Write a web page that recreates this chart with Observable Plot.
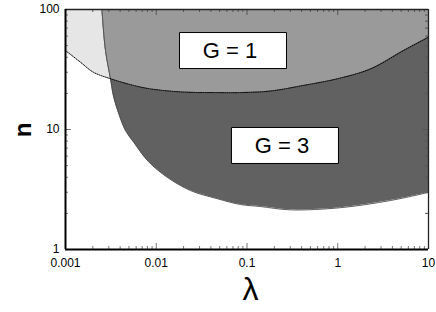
<!DOCTYPE html>
<html>
<head>
<meta charset="utf-8">
<script src="https://cdn.jsdelivr.net/npm/d3@7"></script>
<script src="https://cdn.jsdelivr.net/npm/@observablehq/plot@0.6"></script>
<style>
  html, body { margin: 0; padding: 0; background: white; }
  #chart svg { display: block; }
</style>
</head>
<body>
<div id="chart"></div>
<script>
// G = 1 boundary (dotted curve): lambda and n
const lamG1 = [0.001, 0.00146, 0.00203, 0.00313, 0.00562, 0.00864, 0.02, 0.045, 0.085, 0.18, 0.42, 1.0, 2.3, 5.3, 10];
const nG1   = [45.5, 36.4, 30.0, 26.5, 23.3, 21.8, 20.5, 20.3, 20.3, 20.9, 23.3, 26.5, 32.0, 45.5, 58.8];

// G = 3 boundary (lower edge of dark region)
const lamG3 = [0.00252, 0.00276, 0.00313, 0.0034, 0.00387, 0.00458, 0.00566, 0.0082, 0.0132, 0.0238, 0.047, 0.085, 0.141, 0.30, 1.07, 3.81, 10];
const nG3   = [100, 45.5, 26.5, 18.6, 13.5, 9.8, 7.8, 5.4, 4.0, 3.1, 2.65, 2.37, 2.28, 2.14, 2.23, 2.56, 2.99];

// crossing point of the two boundaries
const crossLam = 0.00313;

// region labels
const labelText = ["G = 1", "G = 3"];
const labelLam  = [0.0701, 0.262];
const labelN    = [45.5, 7.36];

// axis ticks
const xMajor = [0.001, 0.01, 0.1, 1, 10];
const yMajor = [1, 10, 100];

const g1 = lamG1.map((l, i) => ({lam: l, n: nG1[i]}));
const g3 = lamG3.map((l, i) => ({lam: l, n: nG3[i]}));
const labels = labelText.map((t, i) => ({text: t, lam: labelLam[i], n: labelN[i]}));

const xAll = d3.scaleLog().domain([0.001, 10]).ticks();
const yAll = d3.scaleLog().domain([1, 100]).ticks();
const xMinor = xAll.filter(v => !xMajor.some(m => Math.abs(m - v) / m < 1e-9));
const yMinor = yAll.filter(v => !yMajor.some(m => Math.abs(m - v) / m < 1e-9));

const W = 436, H = 312, mL = 65, mR = 8, mT = 9, mB = 63;
const innerW = W - mL - mR, innerH = H - mT - mB;
const majLen = 6, minLen = 3;

const boxSymbol = { draw(ctx) { ctx.rect(-53.5, -18, 107, 36); } };

const light = "#e6e6e6", medium = "#9a9a9a", dark = "#616161";
const crv = "catmull-rom";

const chart = Plot.plot({
  width: W, height: H,
  marginLeft: mL, marginRight: mR, marginTop: mT, marginBottom: mB,
  x: {type: "log", domain: [0.001, 10], label: null},
  y: {type: "log", domain: [1, 100], label: null},
  style: {fontFamily: "'Liberation Sans', Arial, Helvetica, sans-serif", fontSize: "12px", background: "white", color: "black"},
  marks: [
    // G = 1 only region (above dotted curve)
    Plot.areaY(g1, {x: "lam", y1: "n", y2: 100, fill: light, curve: crv}),
    // G = 3 region
    Plot.areaY(g3, {x: "lam", y1: "n", y2: 100, fill: dark, curve: crv}),
    // overlap: G = 3 region above dotted curve
    Plot.areaY(g1.filter(d => d.lam >= crossLam), {x: "lam", y1: "n", y2: 100, fill: medium, curve: crv}),
    Plot.areaY(g3.filter(d => d.lam <= crossLam), {x: "lam", y1: "n", y2: 100, fill: medium, curve: crv}),
    // boundaries
    Plot.line(g3, {x: "lam", y: "n", stroke: "#4a4a4a", strokeWidth: 0.9, curve: crv}),
    Plot.line(g1, {x: "lam", y: "n", stroke: "black", strokeWidth: 1, strokeDasharray: "1,1.2", curve: crv}),
    // label boxes
    Plot.dot(labels, {x: "lam", y: "n", symbol: boxSymbol, fill: "white", stroke: "black", strokeWidth: 1}),
    Plot.text(labels, {x: "lam", y: "n", text: "text", fontSize: 22, dx: -3, fill: "black"}),
    // inward ticks: bottom, top
    Plot.tickX(xMajor, {x: d => d, insetTop: innerH - majLen, stroke: "#777", strokeWidth: 1}),
    Plot.tickX(xMinor, {x: d => d, insetTop: innerH - minLen, stroke: "#777", strokeWidth: 1}),
    Plot.tickX(xMajor, {x: d => d, insetBottom: innerH - majLen, stroke: "#555", strokeWidth: 1}),
    Plot.tickX(xMinor, {x: d => d, insetBottom: innerH - minLen, stroke: "#555", strokeWidth: 1}),
    // inward ticks: left, right
    Plot.tickY(yMajor, {y: d => d, insetRight: innerW - majLen, stroke: "#777", strokeWidth: 1}),
    Plot.tickY(yMinor, {y: d => d, insetRight: innerW - minLen, stroke: "#777", strokeWidth: 1}),
    Plot.tickY(yMajor, {y: d => d, insetLeft: innerW - majLen, stroke: "#555", strokeWidth: 1}),
    Plot.tickY(yMinor, {y: d => d, insetLeft: innerW - minLen, stroke: "#555", strokeWidth: 1}),
    // frame
    Plot.ruleY([100], {stroke: "#222", strokeWidth: 1.3}),
    Plot.ruleX([10], {stroke: "#222", strokeWidth: 1.3}),
    Plot.ruleX([0.001], {stroke: "black", strokeWidth: 2}),
    Plot.ruleY([1], {stroke: "black", strokeWidth: 2}),
    // tick labels
    Plot.axisX({ticks: xMajor, tickSize: 0, tickPadding: 9, tickFormat: d => String(d), label: null, fontSize: 12}),
    Plot.axisY({ticks: yMajor, tickSize: 0, tickPadding: 6, tickFormat: d => String(d), label: null, fontSize: 12}),
    // axis titles
    Plot.text(["n"], {text: d => d, frameAnchor: "left", dx: -42.5, dy: 0.5, rotate: -90, textAnchor: "middle", lineAnchor: "middle", fontSize: 24, fontWeight: "bold", fill: "black"}),
    Plot.text(["λ"], {text: d => d, frameAnchor: "bottom", dx: 3.5, dy: 40, textAnchor: "middle", lineAnchor: "middle", fontSize: 32, fill: "black"})
  ]
});
document.getElementById("chart").appendChild(chart);
</script>
</body>
</html>
